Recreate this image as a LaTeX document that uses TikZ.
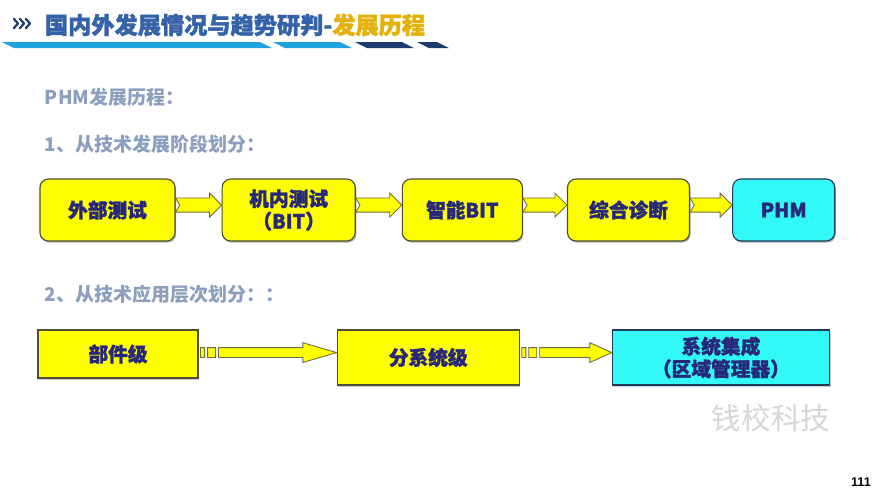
\documentclass[tikz,border=0pt]{standalone}
\usepackage{fontspec}
\setmainfont{Noto Sans CJK SC}
\newfontfamily\heavy{Noto Sans CJK SC}[BoldFeatures={FakeBold=1.6}]
\newfontfamily\numfont{Liberation Sans}
\usetikzlibrary{shadows, positioning, calc}
\definecolor{stageyellow}{HTML}{FFFF00}
\definecolor{stageedge}{HTML}{4D4D33}
\definecolor{boxtext}{HTML}{28287A}
\definecolor{phmcyan}{HTML}{33F8F8}
\definecolor{cyanedge}{HTML}{1F3A5C}
\definecolor{headtext}{HTML}{8C9FBF}
\definecolor{titleblue}{HTML}{3563A8}
\definecolor{titlegold}{HTML}{E3B10A}
\definecolor{stripeblue}{HTML}{1CA3DE}
\definecolor{stripenavy}{HTML}{1D3C6E}
\definecolor{wmgray}{HTML}{D6D6D6}
\definecolor{arrowedge}{HTML}{6B6B40}

\begin{document}
\begin{tikzpicture}[x=0.025cm, y=-0.025cm,
stage/.style  ={rectangle, draw=stageedge, fill=stageyellow, rounded corners=6pt, line width=0.8pt, minimum height=1.55cm, align=center, text=boxtext, font=\heavy\fontsize{14}{16}\selectfont\bfseries, drop shadow={shadow xshift=0.8pt, shadow yshift=-1.2pt, opacity=0.6}},
level/.style  ={rectangle, draw=stageedge, fill=stageyellow, line width=0.8pt, minimum height=1.375cm, align=center, text=boxtext, font=\heavy\fontsize{14}{16}\selectfont\bfseries, drop shadow={shadow xshift=0.8pt, shadow yshift=-1.2pt, opacity=0.4}},
heading/.style={anchor=west, text=headtext, font=\fontsize{13.5}{15}\selectfont\bfseries},
line/.style   ={draw=arrowedge, fill=stageyellow, line width=0.6pt,
  to path={let \p1=(\tikztostart.east), \p2=(\tikztotarget.west) in
    (\x1,\y1+8.5pt) -- (\x2-8.5pt,\y1+8.5pt) -- (\x2-8.5pt,\y1+12pt) -- (\x2,\y1+3.5pt) -- (\x2-8.5pt,\y1-5pt) -- (\x2-8.5pt,\y1-1.5pt) -- (\x1,\y1-1.5pt) -- (\x1+3pt,\y1+3.5pt) -- cycle}},
striped line/.style={draw=arrowedge, fill=stageyellow, line width=0.6pt,
  to path={let \p1=(\tikztostart.east), \p2=(\tikztotarget.west) in
    (\x1+1.4pt,\y2) rectangle (\x1+4.3pt,\y2+7pt)
    (\x1+6.4pt,\y2) rectangle (\x1+12.1pt,\y2+7pt)
    (\x1+14.2pt,\y2) -- (\x1+14.2pt,\y2+7pt) -- (\x2-#1,\y2+7pt) -- (\x2-#1,\y2+10.5pt) -- (\x2,\y2+3.5pt) -- (\x2-#1,\y2-3.5pt) -- (\x2-#1,\y2) -- cycle}},
]

\fill[white] (0,0) rectangle (882,496);
\path[use as bounding box] (0,0) rectangle (882,496);

% Title bar
\draw[stripenavy, line width=1.6pt, line cap=round, line join=round]
  (14,19) -- (18,23.5) -- (14,28)
  (20,19) -- (24,23.5) -- (20,28)
  (26,19) -- (30,23.5) -- (26,28);
\node[anchor=west, text=titleblue, font=\heavy\fontsize{16.5}{18}\selectfont\bfseries] (tt) at (40,25) {国内外发展情况与趋势研判-\textcolor{titlegold}{发展历程}};
\fill[stripeblue] (2,42) -- (260,42) -- (272,48) -- (14,48) -- cycle;
\fill[stripeblue] (273,42) -- (340,42) -- (352,48) -- (285,48) -- cycle;
\fill[stripenavy] (355,42) -- (402,42) -- (414,48) -- (367,48) -- cycle;
\fill[stripenavy] (417,42) -- (437,42) -- (449,48) -- (429,48) -- cycle;

% Headings
\node[heading] (ph) at (40,97)  {PHM发展历程：};
\node[heading] (h1) at (40,144) {1、从技术发展阶段划分：};
\node[heading] (h2) at (40,294) {2、从技术应用层次划分：：};

% Define the nodes
\node[stage, minimum width=3.375cm]                      (ws)  at (107.5,210) {外部测试};
\node[stage, minimum width=3.325cm, right=1.15cm of ws]  (nc)  {机内测试\\（BIT）};
\node[stage, minimum width=3cm,     right=1.15cm of nc]  (zn)  {智能BIT};
\node[stage, minimum width=3.05cm,  right=1.1cm of zn]   (zh)  {综合诊断};
\node[stage, minimum width=2.55cm,  right=1.05cm of zh, fill=phmcyan, draw=cyanedge] (phm) {PHM};

\node[level, minimum width=4cm, minimum height=1.2cm]    (bj)  at (118,354) {部件级};
\node[level, minimum width=4.55cm, anchor=north west]    (fx)  at ([xshift=3.45cm]bj.north east) {分系统级};
\node[level, minimum width=5.425cm, right=2.3cm of fx, fill=phmcyan, draw=cyanedge] (xt) {系统集成\\（区域管理器）};

% Connect the nodes
\path[line] (ws) to (nc);
\path[line] (nc) to (zn);
\path[line] (zn) to (zh);
\path[line] (zh) to (phm);
\path[striped line=24pt] (bj) to (fx);
\path[striped line=15.6pt] (fx) to (xt);

% Watermark and page number
\node[text=wmgray, font=\fontsize{21}{21}\selectfont] (wm) at (771,418) {钱校科技};
\node[font=\numfont\bfseries\fontsize{9}{9}\selectfont] (pg) at (861,482) {111};

\end{tikzpicture}
\end{document}
